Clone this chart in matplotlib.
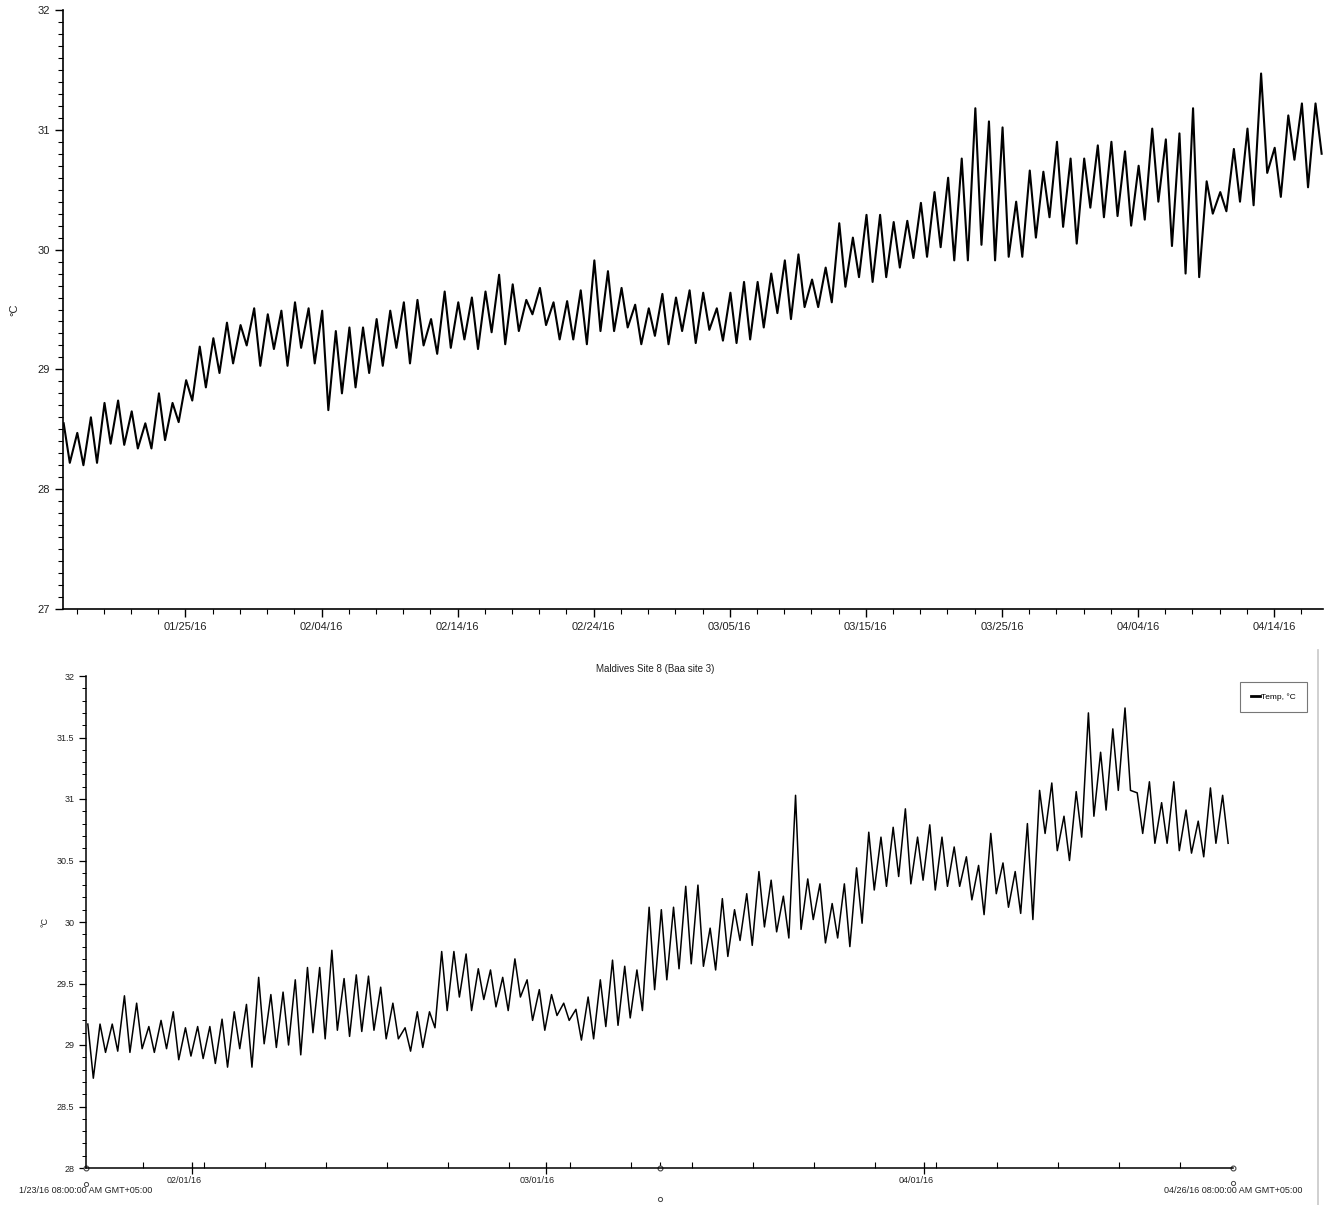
import matplotlib
matplotlib.use("Agg")
import matplotlib.pyplot as plt
import matplotlib.dates as mdates
import matplotlib.transforms as mtransforms
from matplotlib.lines import Line2D
from matplotlib.ticker import FixedLocator, MultipleLocator, FormatStrFormatter, NullFormatter
from datetime import datetime, timedelta
import numpy as np

plt.rcParams['font.family'] = ['Liberation Sans Narrow', 'Liberation Sans', 'DejaVu Sans']

# ---- upper chart: daily highs / lows, one pair per day from 01/16/16 ----
top_start = datetime(2016, 1, 16)
top_peak = [28.55, 28.47, 28.60, 28.72, 28.74, 28.65, 28.55, 28.80, 28.72, 28.91,
            29.19, 29.26, 29.39, 29.37, 29.51, 29.46, 29.49, 29.56, 29.51, 29.49,
            29.32, 29.35, 29.35, 29.42, 29.49, 29.56, 29.58, 29.42, 29.65, 29.56,
            29.60, 29.65, 29.79, 29.71, 29.58, 29.68, 29.56, 29.57, 29.66, 29.91,
            29.82, 29.68, 29.54, 29.51, 29.63, 29.60, 29.66, 29.64, 29.51, 29.64,
            29.73, 29.73, 29.80, 29.91, 29.96, 29.75, 29.85, 30.22, 30.10, 30.29,
            30.29, 30.23, 30.24, 30.39, 30.48, 30.60, 30.76, 31.18, 31.07, 31.02,
            30.40, 30.66, 30.65, 30.90, 30.76, 30.76, 30.87, 30.90, 30.82, 30.70,
            31.01, 30.92, 30.97, 31.18, 30.57, 30.48, 30.84, 31.01, 31.47, 30.85,
            31.12, 31.22, 31.22]
top_trough = [28.22, 28.20, 28.22, 28.38, 28.37, 28.34, 28.34, 28.41, 28.56, 28.74,
              28.85, 28.97, 29.05, 29.20, 29.03, 29.17, 29.03, 29.18, 29.05, 28.66,
              28.80, 28.85, 28.97, 29.03, 29.18, 29.05, 29.20, 29.13, 29.18, 29.25,
              29.17, 29.31, 29.21, 29.32, 29.46, 29.37, 29.25, 29.25, 29.21, 29.32,
              29.32, 29.35, 29.21, 29.28, 29.21, 29.32, 29.22, 29.33, 29.24, 29.22,
              29.25, 29.35, 29.47, 29.42, 29.52, 29.52, 29.56, 29.69, 29.77, 29.73,
              29.77, 29.85, 29.93, 29.94, 30.02, 29.91, 29.91, 30.04, 29.91, 29.94,
              29.94, 30.10, 30.27, 30.19, 30.05, 30.35, 30.27, 30.28, 30.20, 30.25,
              30.40, 30.03, 29.80, 29.77, 30.30, 30.32, 30.40, 30.37, 30.64, 30.44,
              30.75, 30.52, 30.80]

# ---- lower chart: Maldives Site 8, one pair per day from 1/23/16 08:00 ----
bot_start = datetime(2016, 1, 23, 8)
bot_days = 94
bot_peak = [29.17, 29.17, 29.17, 29.40, 29.34, 29.15, 29.20, 29.27, 29.14, 29.15,
            29.15, 29.21, 29.27, 29.33, 29.55, 29.41, 29.43, 29.53, 29.63, 29.63,
            29.77, 29.54, 29.57, 29.56, 29.47, 29.34, 29.14, 29.27, 29.27, 29.76,
            29.76, 29.74, 29.62, 29.61, 29.55, 29.70, 29.53, 29.45, 29.41, 29.34,
            29.29, 29.39, 29.53, 29.69, 29.64, 29.61, 30.12, 30.10, 30.12, 30.29,
            30.30, 29.95, 30.19, 30.10, 30.23, 30.41, 30.34, 30.21, 31.03, 30.35,
            30.31, 30.15, 30.31, 30.44, 30.73, 30.69, 30.77, 30.92, 30.69, 30.79,
            30.69, 30.61, 30.53, 30.46, 30.72, 30.48, 30.41, 30.80, 31.07, 31.13,
            30.86, 31.06, 31.70, 31.38, 31.57, 31.74, 31.05, 31.14, 30.97, 31.14,
            30.91, 30.82, 31.09, 31.03]
bot_trough = [28.73, 28.94, 28.95, 28.94, 28.97, 28.94, 28.97, 28.88, 28.91, 28.89,
              28.85, 28.82, 28.97, 28.82, 29.01, 28.98, 29.00, 28.92, 29.10, 29.05,
              29.12, 29.07, 29.11, 29.12, 29.05, 29.05, 28.95, 28.98, 29.14, 29.28,
              29.39, 29.28, 29.37, 29.31, 29.28, 29.39, 29.20, 29.12, 29.24, 29.20,
              29.04, 29.05, 29.15, 29.16, 29.22, 29.28, 29.45, 29.53, 29.62, 29.66,
              29.64, 29.61, 29.72, 29.85, 29.81, 29.96, 29.92, 29.87, 29.94, 30.02,
              29.83, 29.87, 29.80, 29.99, 30.26, 30.29, 30.37, 30.31, 30.34, 30.26,
              30.29, 30.29, 30.18, 30.06, 30.23, 30.12, 30.07, 30.02, 30.72, 30.58,
              30.50, 30.69, 30.86, 30.91, 31.07, 31.07, 30.72, 30.64, 30.64, 30.58,
              30.56, 30.53, 30.64, 30.64]

title = 'Maldives Site 8 (Baa site 3)'
series_label = 'Temp, °C'
start_label = '1/23/16 08:00:00 AM GMT+05:00'
end_label = '04/26/16 08:00:00 AM GMT+05:00'

W, H = 1324, 1205
TXT = '#222222'


def zigzag(start, peaks, troughs, peak_off, trough_off):
    # alternate daily high and low along the time axis
    d0 = mdates.date2num(start)
    days = np.arange(len(peaks))
    x = np.column_stack([d0 + days + peak_off, d0 + days + trough_off]).ravel()
    y = np.column_stack([peaks, troughs]).ravel()
    return x, y


fig = plt.figure(figsize=(W / 100, H / 100), dpi=100)

# ---------------- upper panel ----------------
ax1 = fig.add_axes([63 / W, 1 - 609 / H, (1323 - 63) / W, 599 / H])
x1, y1 = zigzag(top_start, top_peak, top_trough, 0.05, 0.5)
ax1.plot(x1, y1, color='black', lw=1.5)

t0 = mdates.date2num(top_start)
ax1.set_xlim(t0, t0 + 92.6)
ax1.set_ylim(27, 32)

major1 = [mdates.date2num(datetime(2016, 1, 25) + timedelta(days=10 * k)) for k in range(9)]
minor1 = [mdates.date2num(datetime(2016, 1, 17) + timedelta(days=2 * k)) for k in range(46)]
ax1.xaxis.set_major_locator(FixedLocator(major1))
ax1.xaxis.set_minor_locator(FixedLocator(minor1))
ax1.xaxis.set_major_formatter(mdates.DateFormatter('%m/%d/%y'))
ax1.yaxis.set_major_locator(MultipleLocator(1))
ax1.yaxis.set_minor_locator(MultipleLocator(0.1))
ax1.yaxis.set_major_formatter(FormatStrFormatter('%d'))

for s in ['top', 'right']:
    ax1.spines[s].set_visible(False)
for s in ['left', 'bottom']:
    ax1.spines[s].set_linewidth(1.2)
ax1.tick_params(axis='both', which='major', direction='out', length=6, width=1,
                labelsize=8, colors='black', labelcolor=TXT)
ax1.tick_params(axis='both', which='minor', direction='out', length=3.5, width=0.8)
ax1.tick_params(axis='x', which='major', pad=3)
fig.text(14 / W, 1 - 310 / H, '°C', rotation=90, ha='center', va='center',
         fontsize=8, color=TXT)

# ---------------- lower panel ----------------
ax2 = fig.add_axes([86 / W, 1 - 1168 / H, 1147 / W, 492 / H])
x2, y2 = zigzag(bot_start, bot_peak, bot_trough, 0.15, 0.6)
ax2.plot(x2, y2, color='black', lw=1.1)

b0 = mdates.date2num(bot_start)
b1 = b0 + bot_days
ax2.set_xlim(b0, b1)
ax2.set_ylim(28, 32)

major2 = [datetime(2016, m, 1) for m in (2, 3, 4)]
minor2 = [mdates.date2num(datetime(2016, 1, 28) + timedelta(days=5 * k)) for k in range(18)]
ax2.xaxis.set_major_locator(FixedLocator(mdates.date2num(major2)))
ax2.xaxis.set_minor_locator(FixedLocator(minor2 + [(b0 + b1) / 2]))
ax2.xaxis.set_major_formatter(NullFormatter())
ax2.yaxis.set_major_locator(MultipleLocator(0.5))
ax2.yaxis.set_minor_locator(MultipleLocator(0.1))
ax2.yaxis.set_major_formatter(FormatStrFormatter('%g'))

for s in ['top', 'right']:
    ax2.spines[s].set_visible(False)
for s in ['left', 'bottom']:
    ax2.spines[s].set_linewidth(1.1)
ax2.tick_params(axis='y', which='major', direction='out', length=5, width=0.9,
                labelsize=6.5, labelcolor=TXT)
ax2.tick_params(axis='y', which='minor', direction='out', length=3, width=0.7)
ax2.tick_params(axis='x', which='major', direction='inout', length=8, width=0.9)
ax2.tick_params(axis='x', which='minor', direction='in', length=4, width=0.8)

trans = mtransforms.blended_transform_factory(ax2.transData, ax2.transAxes)
# month labels sit a little left of their ticks, as in the HOBOware export
shift = trans + mtransforms.ScaledTranslation(-8 / 100, 0, fig.dpi_scale_trans)
for d in major2:
    ax2.text(mdates.date2num(d), -0.026, d.strftime('%m/%d/%y'), transform=shift,
             ha='center', va='center', fontsize=6.5, color=TXT)
ax2.text(b0, -0.045, start_label, transform=trans, ha='center', va='center',
         fontsize=6.5, color=TXT)
ax2.text(b1, -0.045, end_label, transform=trans, ha='center', va='center',
         fontsize=6.5, color=TXT)
# small circle handles at the ends and middle of the time axis
ax2.plot([b0, (b0 + b1) / 2, b1], [0, 0, 0], 'o', ms=3.5, mfc='white', mec='#444',
         mew=0.8, transform=trans, clip_on=False)
ax2.plot([b0, b1], [-0.032, -0.031], 'o', ms=3, mfc='none', mec='#444',
         mew=0.7, transform=trans, clip_on=False)
ax2.plot([(b0 + b1) / 2], [-0.063], 'o', ms=3, mfc='none', mec='#444',
         mew=0.7, transform=trans, clip_on=False)

fig.text(655 / W, 1 - 669 / H, title, ha='center', va='center', fontsize=7, color=TXT)
fig.text(45 / W, 1 - 922 / H, '°C', rotation=90, ha='center', va='center',
         fontsize=6.5, color=TXT)

handle = Line2D([], [], color='black', lw=2)
leg = fig.legend([handle], [series_label], loc='upper left',
                 bbox_to_anchor=(1240 / W, 1 - 682 / H), fontsize=6,
                 frameon=True, fancybox=False, handlelength=1.0, handletextpad=0.2,
                 borderpad=1.35, borderaxespad=0)
leg.get_frame().set_edgecolor('#555555')
leg.get_frame().set_linewidth(0.8)

# window frame edge on the right of the lower chart
fig.add_artist(Line2D([1318 / W, 1318 / W], [0, 1 - 650 / H], color='#c8c8c8', lw=1.2))

fig.savefig('out.png', dpi=100)
